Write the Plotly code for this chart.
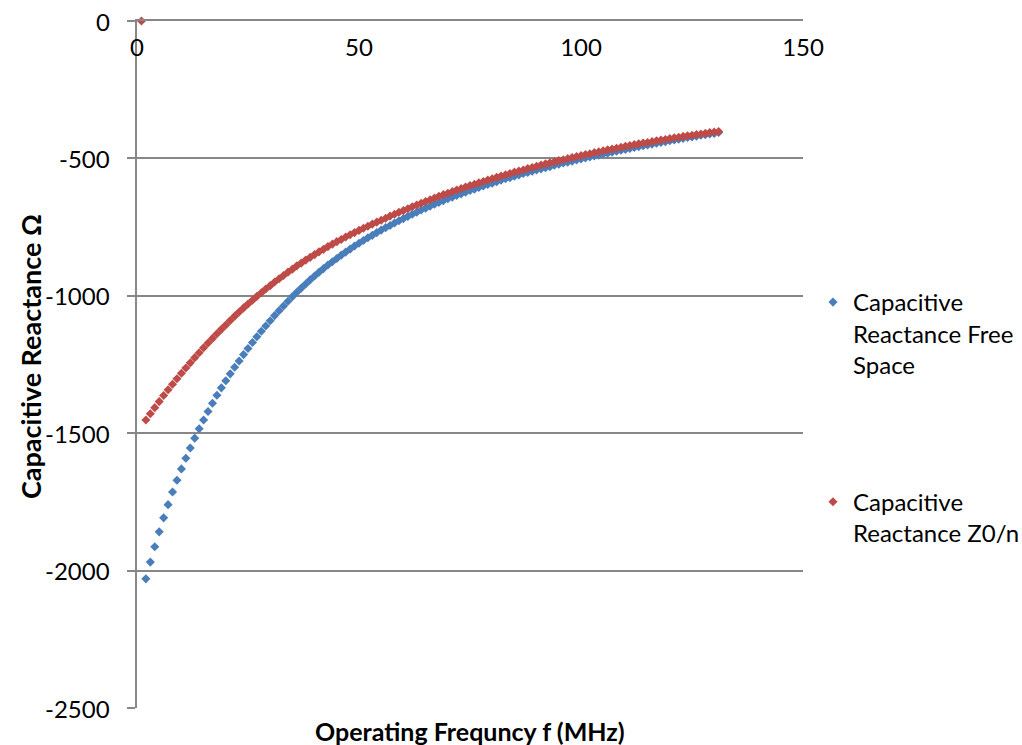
import plotly.graph_objects as go

FONT = "Lato"

# Frequencies (MHz), 1 MHz steps
freq_blue = list(range(2, 132))
freq_red = list(range(1, 132))

# Capacitive Reactance Free Space (ohm), f = 2..131 MHz
react_free = [
    -2030, -1969, -1913, -1859, -1808, -1760, -1714, -1671, -1630,
    -1591, -1554, -1518, -1484, -1452, -1421, -1391, -1362, -1335, -1309,
    -1284, -1260, -1237, -1214, -1192, -1170, -1149, -1129, -1110, -1091,
    -1072, -1054, -1037, -1020, -1003, -987, -972, -957, -942, -928,
    -914, -901, -888, -876, -864, -852, -841, -830, -819, -809,
    -799, -789, -780, -770, -761, -752, -744, -735, -727, -719,
    -711, -703, -696, -688, -681, -674, -667, -660, -654, -647,
    -641, -635, -629, -623, -617, -612, -606, -600, -595, -590,
    -585, -579, -574, -570, -565, -560, -555, -551, -547, -542,
    -538, -534, -530, -525, -521, -517, -514, -510, -506, -502,
    -498, -495, -491, -488, -484, -481, -477, -474, -470, -467,
    -464, -460, -457, -454, -451, -448, -445, -442, -439, -436,
    -433, -430, -427, -424, -422, -419, -416, -414, -411, -409, -406,
]

# Capacitive Reactance Z0/n (ohm), f = 1..131 MHz
react_z0n = [
    0,
    -1452, -1429, -1407, -1385, -1363, -1342, -1322, -1302, -1282,
    -1263, -1244, -1225, -1207, -1189, -1172, -1155, -1138, -1122, -1106,
    -1090, -1074, -1059, -1044, -1030, -1016, -1002, -989, -975, -963,
    -950, -938, -926, -914, -903, -891, -881, -870, -860, -850,
    -840, -831, -821, -812, -803, -795, -786, -778, -770, -762,
    -754, -747, -739, -732, -725, -718, -710, -703, -696, -690,
    -683, -676, -670, -663, -657, -651, -644, -638, -632, -627,
    -621, -615, -610, -604, -599, -594, -589, -584, -579, -574,
    -569, -564, -560, -555, -550, -546, -542, -537, -533, -529,
    -524, -520, -516, -512, -508, -505, -501, -497, -493, -490,
    -486, -483, -479, -476, -472, -469, -466, -463, -460, -456,
    -453, -450, -447, -444, -442, -439, -436, -433, -431, -428,
    -425, -423, -420, -418, -416, -413, -411, -409, -406, -404, -402,
]

x_ticks = [0, 50, 100, 150]
y_ticks = [-2500, -2000, -1500, -1000, -500, 0]
y_ticktext = ["-2500", "-2000", "-1500", "-1000", "-500", "0"]

BLUE = "#4A7EBB"
RED = "#BE4B48"
GRID = "#878787"

fig = go.Figure()
fig.add_trace(go.Scatter(
    x=freq_blue, y=react_free, mode="markers",
    name="Capacitive<br>Reactance Free<br>Space", legendgroup="a",
    marker=dict(symbol="diamond", size=7, color=BLUE),
    cliponaxis=False,
))
fig.add_trace(go.Scatter(
    x=freq_red, y=react_z0n, mode="markers",
    name="Capacitive<br>Reactance Z0/n", legendgroup="b",
    marker=dict(symbol="diamond", size=7, color=RED),
    cliponaxis=False,
))

# y tick labels placed right-aligned left of the axis
y_label_annotations = [
    dict(text=t, xref="paper", yref="y", x=-0.0375, y=v,
         xanchor="right", yanchor="middle", showarrow=False,
         font=dict(family=FONT, size=24, color="black"))
    for v, t in zip(y_ticks, y_ticktext)
]

fig.update_layout(
    width=1022, height=745,
    margin=dict(l=137, r=219, t=21, b=37, autoexpand=False),
    paper_bgcolor="white", plot_bgcolor="white",
    font=dict(family=FONT, size=24, color="black"),
    showlegend=True,
    legend=dict(
        x=1.015, y=0.623, xanchor="left", yanchor="top",
        font=dict(family=FONT, size=24, color="black"),
        tracegroupgap=103, valign="top", bgcolor="rgba(0,0,0,0)",
    ),
    xaxis=dict(
        range=[0, 150], tickvals=x_ticks, side="top",
        ticklabelposition="inside", ticklabeloverflow="allow",
        ticklabelstandoff=20,
        showgrid=False, zeroline=False,
        showline=True, linecolor=GRID, linewidth=1.7, ticks="",
        tickfont=dict(family=FONT, size=24, color="black"),
    ),
    yaxis=dict(
        range=[-2500, 0], tickvals=y_ticks, showticklabels=False,
        showgrid=True, gridcolor=GRID, gridwidth=1.7, zeroline=False,
        showline=True, linecolor=GRID, linewidth=1.7,
        ticks="outside", ticklen=8, tickcolor=GRID, tickwidth=1.7,
    ),
    annotations=y_label_annotations + [
        dict(text="<b>Operating Frequncy f (MHz)</b>", xref="paper", yref="paper",
             x=0.5, y=-0.033, xanchor="center", yanchor="middle", showarrow=False,
             font=dict(family=FONT, size=25, color="black")),
        dict(text="<b>Capacitive Reactance Ω</b>", xref="paper", yref="paper",
             x=-0.161, y=0.512, xanchor="center", yanchor="middle", showarrow=False,
             textangle=-90, font=dict(family=FONT, size=27, color="black")),
    ],
)

fig.write_html("out.html")
